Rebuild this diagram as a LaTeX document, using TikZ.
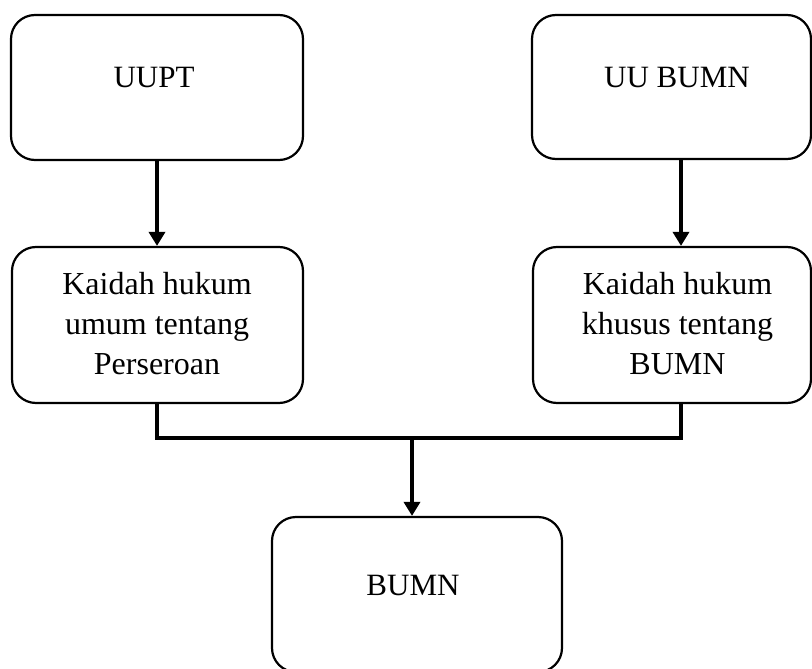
\documentclass[tikz,border=0pt]{standalone}
\usepackage{fontspec}
\setmainfont{Liberation Serif}
\usetikzlibrary{arrows.meta}
\begin{document}
\begin{tikzpicture}[x=1pt,y=-1pt,
  box/.style={draw, line width=2.2pt, rounded corners=24pt, inner sep=0pt},
  lbl/.style={inner sep=0pt, anchor=base, font=\fontsize{31}{38}\selectfont},
  mlbl/.style={inner sep=0pt, align=center, font=\fontsize{32}{40}\selectfont},
  link/.style={line width=3.4pt},
  arrow/.style={link, -{Triangle[length=14pt,width=16pt]}}]
  \useasboundingbox (0,0) rectangle (812,669);

  % boxes
  \node[box, minimum width=292pt, minimum height=145pt] (uupt)  at (157,87.5) {};
  \node[box, minimum width=279pt, minimum height=144pt] (uubumn) at (671.5,87) {};
  \node[box, minimum width=291pt, minimum height=156pt] (kl) at (157.5,325) {};
  \node[box, minimum width=278pt, minimum height=156pt] (kr) at (672,325) {};
  \node[box, minimum width=290pt, minimum height=155pt] (bumn) at (417,594.5) {};

  % labels
  \node[lbl] (uupt-t)   at (154,88)  {UUPT};
  \node[lbl] (uubumn-t) at (677,88)  {UU BUMN};
  \node[mlbl] (kl-t) at (157,324) {Kaidah hukum\\umum tentang\\Perseroan};
  \node[mlbl] (kr-t) at (677.5,324) {Kaidah hukum\\khusus tentang\\BUMN};
  \node[lbl] (bumn-t)   at (413,595) {BUMN};

  % connector columns and the joining bar
  \coordinate (lx) at (157,0);
  \coordinate (rx) at (681,0);
  \coordinate (mx) at (412,0);
  \coordinate (bar) at (0,438);

  \draw[arrow] (uupt.south -| lx) -- (kl.north -| lx);
  \draw[arrow] (uubumn.south -| rx) -- (kr.north -| rx);
  \draw[link] (kl.south -| lx) |- (bar -| rx) -- (kr.south -| rx);
  \draw[arrow] (bar -| mx) -- (bumn.north -| mx);
\end{tikzpicture}
\end{document}
